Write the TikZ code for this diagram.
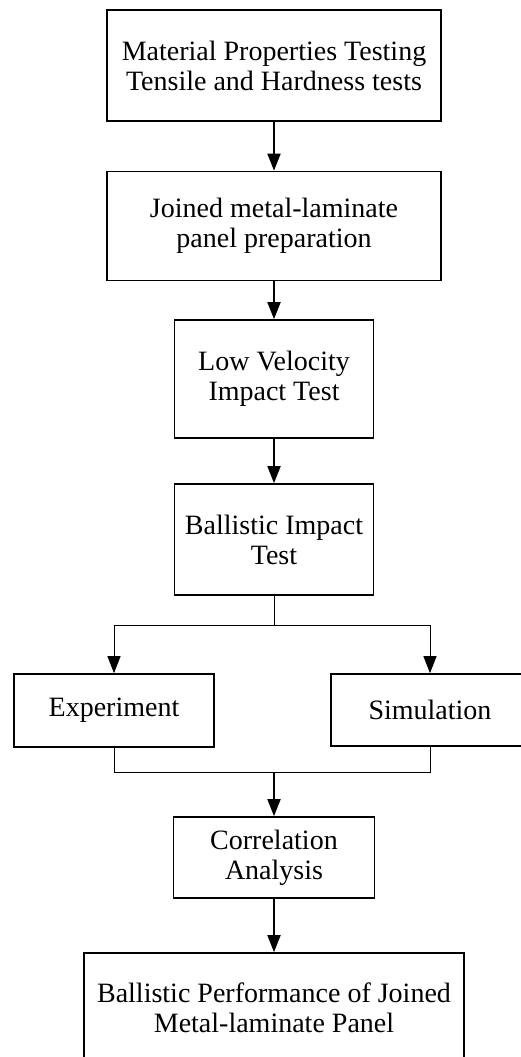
\documentclass[tikz,border=0pt]{standalone}
\usepackage{fontspec}
\setmainfont{Liberation Serif}
\usetikzlibrary{arrows.meta}
\begin{document}
\begin{tikzpicture}[x=1pt,y=-1pt,
  box/.style={draw,line width=1.6pt,align=center,inner sep=0pt,font=\fontsize{28}{30}\selectfont},
  thickarrow/.style={line width=1.8pt,-{Triangle[length=17pt,width=13pt]}},
  thinline/.style={line width=0.9pt},
  thinarrow/.style={line width=0.9pt,-{Triangle[length=17pt,width=13pt]}}]
\useasboundingbox (0,0) rectangle (521,1057);
\clip (0,0) rectangle (521,1057);
\node[box,minimum width=334pt,minimum height=111pt] (b1) at (274,65.5) {Material Properties Testing\\Tensile and Hardness tests};
\node[box,minimum width=334pt,minimum height=109pt] (b2) at (274,226) {Joined metal-laminate\\panel preparation};
\node[box,minimum width=199pt,minimum height=118pt] (b3) at (274,379) {Low Velocity\\Impact Test};
\node[box,minimum width=199pt,minimum height=111pt] (b4) at (274,539.5) {Ballistic Impact\\Test};
\node[box,minimum width=200pt,minimum height=73pt] (exp) at (114,710.5) {Experiment};
\node[box,minimum width=198pt,minimum height=72pt] (sim) at (430,710) {Simulation};
\node[box,minimum width=201pt,minimum height=81pt] (corr) at (274,857.5) {Correlation\\Analysis};
\node[box,minimum width=380pt,minimum height=110pt] (fin) at (274,1008) {Ballistic Performance of Joined\\Metal-laminate Panel};
\coordinate (s) at (274,625);
\coordinate (m) at (274,772);
\draw[thickarrow] (b1.south) -- (b2.north);
\draw[thickarrow] (b2.south) -- (b3.north);
\draw[thickarrow] (b3.south) -- (b4.north);
\draw[thinline] (b4.south) -- (s);
\draw[thinarrow] (s) -| (exp.north);
\draw[thinarrow] (s) -| (sim.north);
\draw[thinline] (exp.south) |- (m);
\draw[thinline] (sim.south) |- (m);
\draw[thickarrow] (m) -- (corr.north);
\draw[thickarrow] (corr.south) -- (fin.north);
\end{tikzpicture}
\end{document}
